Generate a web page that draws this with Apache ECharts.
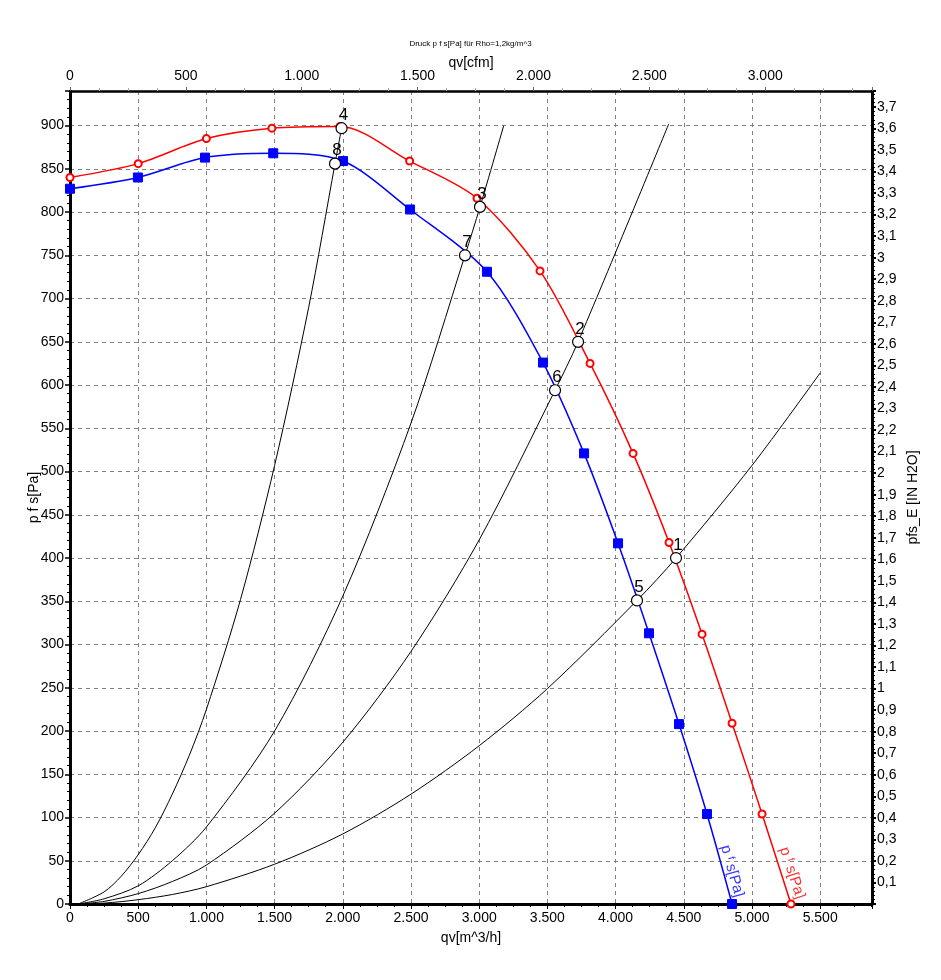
<!DOCTYPE html>
<html>
<head>
<meta charset="utf-8">
<script src="https://cdn.jsdelivr.net/npm/echarts@6/dist/echarts.min.js"></script>
<style>html,body{margin:0;padding:0;background:#fff}#c{width:941px;height:980px}</style>
</head>
<body>
<div id="c"></div>
<script>
// ---- data ----
const redQ = [0, 500, 1000, 1480, 1980, 2490, 2984, 3446, 3813, 4128, 4392, 4634, 4854, 5074, 5286];
const redP = [840, 856, 885, 897, 899, 859, 816, 732, 625, 521, 418, 312, 209, 104, 0];
const blueQ = [0, 498, 990, 1490, 2002, 2493, 3057, 3468, 3769, 4018, 4245, 4465, 4670, 4854];
const blueP = [827, 840, 863, 868, 859, 803, 731, 626, 521, 417, 313, 208, 104, 0];

const sysAQ = [60, 250, 375, 500, 625, 750, 875, 1000, 1250, 1500, 1750, 1943, 1991];
const sysAP = [0, 14, 32, 57, 88, 127, 172, 225, 352, 507, 690, 856, 897];
const sysBQ = [60, 250, 500, 750, 1000, 1500, 2000, 2500, 2896, 3006, 3180];
const sysBP = [0, 6, 21, 50, 89, 200, 356, 556, 750, 806, 900];
const sysCQ = [60, 250, 500, 750, 1000, 1500, 2000, 2500, 3000, 3556, 3725, 4390];
const sysCP = [0, 3, 12, 26, 45, 105, 187, 292, 421, 594, 650, 902];
const sysDQ = [60, 250, 500, 750, 1000, 1500, 2000, 2500, 3000, 3500, 4157, 4443, 5000, 5500];
const sysDP = [0, 1, 5, 11, 20, 46, 81, 127, 183, 249, 351, 400, 507, 614];

const opLabels = ['1', '2', '3', '4', '5', '6', '7', '8'];
const opQ = [4443, 3725, 3006, 1991, 4157, 3556, 2896, 1943];
const opP = [400, 650, 806, 897, 351, 594, 750, 856];

const blueLabelAt = [4854, 38];
const redLabelAt = [5294, 36];

const qMax = 5880;            // m^3/h
const pMax = 940;             // Pa
const cfmPerM3h = 0.588578;
const paPerInH2O = 249.089;

const titleText = 'Druck p f s[Pa] für Rho=1,2kg/m^3';
const xName = 'qv[m^3/h]';
const xTopName = 'qv[cfm]';
const yName = 'p f s[Pa]';
const yRightName = 'pfs_E [IN H2O]';

// ---- helpers ----
const zip = (a, b) => a.map((v, i) => [v, b[i]]);
const thou = v => {
  v = Math.round(v);
  if (v >= 1000) return Math.floor(v / 1000) + '.' + String(v % 1000).padStart(3, '0');
  return String(v);
};
const FONT = "'Liberation Sans', Arial, sans-serif";
const gridLine = { show: true, lineStyle: { color: '#808080', type: [4, 4], width: 1 } };

const chart = echarts.init(document.getElementById('c'), null, { renderer: 'canvas' });

function sysSeries(q, p) {
  return {
    type: 'line', xAxisIndex: 0, yAxisIndex: 0, data: zip(q, p),
    smooth: 0.3, symbol: 'none',
    lineStyle: { color: '#000', width: 1 }, z: 3, silent: true
  };
}
function endLabel(at, color, rot) {
  return {
    type: 'scatter', data: [at], symbolSize: 0, silent: true, z: 5,
    label: {
      show: true, position: 'inside', rotate: rot,
      formatter: '{a|p }{b|f}{a| s[Pa]}',
      rich: {
        a: { fontSize: 15, color: color, fontFamily: FONT },
        b: { fontSize: 10, color: color, fontFamily: FONT, verticalAlign: 'top' }
      },
      align: 'center', verticalAlign: 'middle'
    }
  };
}

const option = {
  backgroundColor: '#fff',
  animation: false,
  textStyle: { fontFamily: FONT },
  title: {
    text: titleText, left: 'center', top: 35,
    textStyle: { fontSize: 8, fontWeight: 'normal', color: '#000', fontFamily: FONT }
  },
  grid: { left: 70, right: 69, top: 91, bottom: 76, containLabel: false },
  xAxis: [
    {
      type: 'value', position: 'bottom', min: 0, max: qMax, interval: 500,
      name: xName, nameLocation: 'middle', nameGap: 27, nameMoveOverlap: false,
      nameTextStyle: { fontSize: 14, color: '#000', fontFamily: FONT },
      axisLine: { show: true, onZero: false, lineStyle: { color: '#000', width: 3 } },
      axisTick: { show: true, length: 5, lineStyle: { color: '#000', width: 1 } },
      minorTick: { show: true, splitNumber: 4, length: 3, lineStyle: { color: '#000' } },
      axisLabel: { formatter: thou, fontSize: 14, color: '#000', margin: 7, showMaxLabel: false, fontFamily: FONT },
      splitLine: gridLine
    },
    {
      type: 'value', position: 'top', min: 0, max: qMax * cfmPerM3h, interval: 500,
      name: xTopName, nameLocation: 'middle', nameGap: 21, nameMoveOverlap: false,
      nameTextStyle: { fontSize: 14, color: '#000', fontFamily: FONT },
      axisLine: { show: true, onZero: false, lineStyle: { color: '#000', width: 2.5 } },
      axisTick: { show: true, length: 4, lineStyle: { color: '#666', width: 1 } },
      minorTick: { show: true, splitNumber: 4, length: 3, lineStyle: { color: '#aaa' } },
      axisLabel: { formatter: thou, fontSize: 14, color: '#000', margin: 8, showMaxLabel: false, fontFamily: FONT },
      splitLine: { show: false }
    }
  ],
  yAxis: [
    {
      type: 'value', position: 'left', min: 0, max: pMax, interval: 50,
      name: yName, nameLocation: 'middle', nameGap: 29, nameRotate: 90, nameMoveOverlap: false,
      nameTextStyle: { fontSize: 14, color: '#000', fontFamily: FONT },
      axisLine: { show: true, onZero: false, lineStyle: { color: '#000', width: 3 } },
      axisTick: { show: true, length: 5, lineStyle: { color: '#000', width: 1.5 } },
      minorTick: { show: true, splitNumber: 5, length: 3, lineStyle: { color: '#000' } },
      axisLabel: { fontSize: 14, color: '#000', margin: 6, showMaxLabel: false, fontFamily: FONT },
      splitLine: gridLine
    },
    {
      type: 'value', position: 'right', min: 0, max: pMax / paPerInH2O, interval: 0.1,
      name: yRightName, nameLocation: 'middle', nameGap: 34, nameRotate: 90, nameMoveOverlap: false,
      nameTextStyle: { fontSize: 14, color: '#000', fontFamily: FONT },
      axisLine: { show: true, onZero: false, lineStyle: { color: '#000', width: 3 } },
      axisTick: { show: true, length: 4, lineStyle: { color: '#000', width: 2 } },
      minorTick: { show: true, splitNumber: 5, length: 3, lineStyle: { color: '#000', width: 1 } },
      axisLabel: {
        fontSize: 14, color: '#000', margin: 5, showMinLabel: false, showMaxLabel: false, fontFamily: FONT,
        formatter: v => String(Math.round(v * 10) / 10).replace('.', ',')
      },
      splitLine: { show: false }
    }
  ],
  series: [
    sysSeries(sysAQ, sysAP),
    sysSeries(sysBQ, sysBP),
    sysSeries(sysCQ, sysCP),
    sysSeries(sysDQ, sysDP),
    {
      type: 'line', data: zip(redQ, redP), smooth: 0.3,
      symbol: 'emptyCircle', symbolSize: 7, showSymbol: true, showAllSymbol: true,
      lineStyle: { color: '#ff0000', width: 1.5 },
      itemStyle: { color: '#ff0000', borderColor: '#ff0000', borderWidth: 1 },
      z: 4, clip: false
    },
    {
      type: 'line', data: zip(blueQ, blueP), smooth: 0.3,
      symbol: 'rect', symbolSize: 9, showSymbol: true, showAllSymbol: true,
      lineStyle: { color: '#0000ff', width: 1.5 },
      itemStyle: { color: '#0000ff', borderColor: '#0000ff' },
      z: 4, clip: false
    },
    {
      type: 'scatter', data: zip(opQ, opP), symbol: 'circle', symbolSize: 11,
      itemStyle: { color: '#fff', borderColor: '#000', borderWidth: 1.2, opacity: 1 },
      label: {
        show: true, position: 'inside', offset: [2, -13],
        formatter: p => opLabels[p.dataIndex], fontSize: 17, color: '#000', fontFamily: FONT
      },
      z: 6, clip: false
    },
    endLabel(blueLabelAt, '#0000ff', -74.5),
    endLabel(redLabelAt, '#ff0000', -72)
  ]
};
chart.setOption(option);
</script>
</body>
</html>
